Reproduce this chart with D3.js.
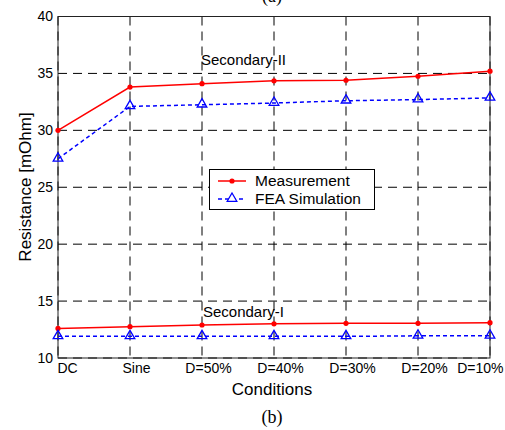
<!DOCTYPE html>
<html>
<head>
<meta charset="utf-8">
<script src="https://cdn.jsdelivr.net/npm/d3@7"></script>
<style>
  html, body { margin: 0; padding: 0; background: #fff; }
  svg { display: block; font-family: Arial, "Liberation Sans", sans-serif; }
</style>
</head>
<body>
<svg id="chart" width="505" height="430"></svg>
<script>
// Operating conditions along the x axis
const conditions = ["DC", "Sine", "D=50%", "D=40%", "D=30%", "D=20%", "D=10%"];
const yTicks = [10, 15, 20, 25, 30, 35, 40];

// Secondary-II winding resistance [mOhm]
const measSecII = [30.0, 33.8, 34.1, 34.35, 34.4, 34.75, 35.2];
const feaSecII  = [27.5, 32.1, 32.25, 32.4, 32.6, 32.7, 32.85];

// Secondary-I winding resistance [mOhm]
const measSecI = [12.6, 12.75, 12.9, 13.0, 13.05, 13.05, 13.1];
const feaSecI  = [11.9, 11.9, 11.9, 11.9, 11.9, 11.95, 11.95];

const svg = d3.select("#chart");
const plotL = 58, plotR = 490, plotT = 16.5, plotB = 358;

const x = d3.scalePoint().domain(conditions).range([plotL, plotR]).padding(0);
const y = d3.scaleLinear().domain([10, 40]).range([plotB, plotT]);

// Dashed grid
const grid = svg.append("g");
grid.selectAll("line.h").data(yTicks).join("line")
  .attr("x1", plotL).attr("x2", plotR)
  .attr("y1", d => y(d)).attr("y2", d => y(d))
  .attr("stroke", "#000").attr("stroke-width", 1)
  .attr("stroke-dasharray", "9,6");
grid.selectAll("line.v").data(conditions).join("line")
  .attr("x1", d => x(d)).attr("x2", d => x(d))
  .attr("y1", plotT).attr("y2", plotB)
  .attr("stroke", "#000").attr("stroke-width", 1)
  .attr("stroke-dasharray", "9,6");

// Axes frame
svg.append("rect")
  .attr("x", plotL).attr("y", plotT)
  .attr("width", plotR - plotL).attr("height", plotB - plotT)
  .attr("fill", "none").attr("stroke", "#222").attr("stroke-width", 1);

// Y axis tick labels
const yAxis = d3.axisLeft(y).tickValues(yTicks).tickSize(0).tickPadding(5);
svg.append("g").attr("transform", `translate(${plotL},0)`).call(yAxis)
  .call(g => g.select(".domain").remove())
  .selectAll("text").attr("font-size", 14).attr("fill", "#000")
  .attr("font-family", "Arial, 'Liberation Sans', sans-serif");

// X axis tick labels
const xAxis = d3.axisBottom(x).tickSize(0).tickPadding(5);
const xg = svg.append("g").attr("transform", `translate(0,${plotB})`).call(xAxis);
xg.select(".domain").remove();
xg.selectAll("text").attr("font-size", 14).attr("fill", "#000")
  .attr("font-family", "Arial, 'Liberation Sans', sans-serif")
  .attr("dy", "0.72em")
  .each(function(d) {
    const w = this.getComputedTextLength();
    let cx = x(d) + 6;
    cx = Math.max(cx, 57 + w / 2);
    cx = Math.min(cx, 503 - w / 2);
    d3.select(this).attr("x", cx - x(d));
  });

// Axis titles
svg.append("text").attr("x", 272).attr("y", 395)
  .attr("text-anchor", "middle").attr("font-size", 17).text("Conditions");
svg.append("text")
  .attr("transform", "translate(31,187) rotate(-90)")
  .attr("text-anchor", "middle").attr("font-size", 17).text("Resistance [mOhm]");

// Sub-figure captions
svg.append("text").attr("x", 272).attr("y", 2)
  .attr("text-anchor", "middle").attr("font-size", 18)
  .attr("font-family", "'Liberation Serif', 'Times New Roman', serif").text("(a)");
svg.append("text").attr("x", 272).attr("y", 423)
  .attr("text-anchor", "middle").attr("font-size", 18)
  .attr("font-family", "'Liberation Serif', 'Times New Roman', serif").text("(b)");

// Series drawing
const line = d3.line().x((d, i) => x(conditions[i])).y(d => y(d));
const tri = d3.symbol().type(d3.symbolTriangle).size(40);

function drawMeasured(values) {
  svg.append("path").datum(values).attr("d", line)
    .attr("fill", "none").attr("stroke", "#ff0000").attr("stroke-width", 1.5);
  svg.append("g").selectAll("circle").data(values).join("circle")
    .attr("cx", (d, i) => x(conditions[i])).attr("cy", d => y(d))
    .attr("r", 2.6).attr("fill", "#ff0000");
}
function drawFea(values) {
  svg.append("path").datum(values).attr("d", line)
    .attr("fill", "none").attr("stroke", "#0000ff").attr("stroke-width", 1.5)
    .attr("stroke-dasharray", "4,3");
  svg.append("g").selectAll("path").data(values).join("path")
    .attr("d", tri)
    .attr("transform", (d, i) => `translate(${x(conditions[i])},${y(d) - 0.5})`)
    .attr("fill", "none").attr("stroke", "#0000ff").attr("stroke-width", 1.3);
}
drawMeasured(measSecII);
drawFea(feaSecII);
drawMeasured(measSecI);
drawFea(feaSecI);

// Group labels
svg.append("text").attr("x", 201).attr("y", 65).attr("font-size", 15).text("Secondary-II");
svg.append("text").attr("x", 203).attr("y", 317).attr("font-size", 15).text("Secondary-I");

// Legend
const lg = svg.append("g");
lg.append("rect").attr("x", 209.5).attr("y", 169.5).attr("width", 165).attr("height", 40)
  .attr("fill", "#fff").attr("stroke", "#000").attr("stroke-width", 1);
lg.append("line").attr("x1", 218).attr("x2", 246).attr("y1", 181).attr("y2", 181)
  .attr("stroke", "#ff0000").attr("stroke-width", 1.5);
lg.append("circle").attr("cx", 232).attr("cy", 181).attr("r", 2.6).attr("fill", "#ff0000");
lg.append("line").attr("x1", 218).attr("x2", 246).attr("y1", 199).attr("y2", 199)
  .attr("stroke", "#0000ff").attr("stroke-width", 1.5).attr("stroke-dasharray", "4,3");
lg.append("path").attr("d", tri).attr("transform", "translate(232,198.5)")
  .attr("fill", "#fff").attr("stroke", "#0000ff").attr("stroke-width", 1.3);
lg.append("text").attr("x", 255).attr("y", 186).attr("font-size", 15.5).text("Measurement");
lg.append("text").attr("x", 255).attr("y", 204).attr("font-size", 15.5).text("FEA Simulation");
</script>
</body>
</html>
